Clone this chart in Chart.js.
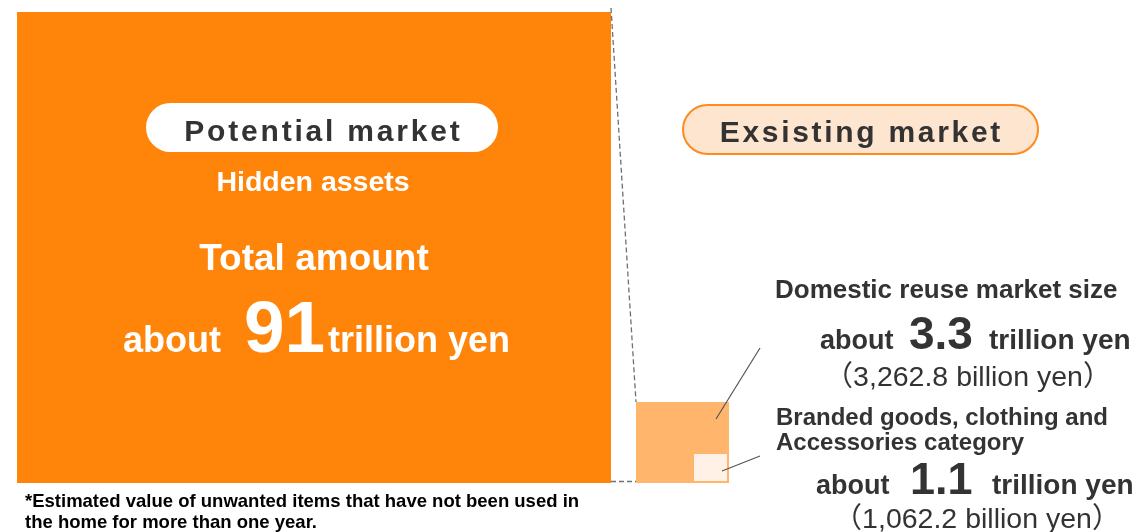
<!DOCTYPE html>
<html>
<head>
<meta charset="utf-8">
<script src="https://cdn.jsdelivr.net/npm/chart.js@4"></script>
<style>
  html, body { margin: 0; padding: 0; background: #ffffff; }
  #wrap { position: relative; width: 1142px; height: 532px; }
</style>
</head>
<body>
<div id="wrap"><canvas id="c" width="1142" height="532"></canvas></div>
<script>
// ---------- data ----------
const categories = ['Potential market (hidden assets)', 'Domestic reuse market size', 'Branded goods, clothing and Accessories category'];
const valuesTrillionYen = [91, 3.3, 1.1];
const valuesBillionYen = [null, 3262.8, 1062.2];

// ---------- layout (chart units on hidden axes: x 0..1142, y 0..532 from top) ----------
const boxLayout = [
  { x0: 17,  x1: 611, y0: 12,  y1: 483 },
  { x0: 636, x1: 729, y0: 402, y1: 483 },
  { x0: 694, x1: 727, y0: 454, y1: 481 }
];
const boxColors = ['#FF850A', '#FFB66C', '#FFF1E5'];

const FONT = "'Liberation Sans', Arial, sans-serif";
const CJK = "'Noto Sans CJK JP', sans-serif";

function boxDataset(i) {
  const b = boxLayout[i];
  return {
    label: categories[i],
    data: [{ x: b.x0, y: b.y0 }, { x: b.x1, y: b.y0 }],
    fill: { value: b.y1 },
    backgroundColor: boxColors[i],
    borderWidth: 0,
    pointRadius: 0,
    tension: 0,
    order: 10 - i
  };
}
function lineDataset(pts, color, dash, width) {
  return {
    data: pts.map(p => ({ x: p[0], y: p[1] })),
    fill: false,
    borderColor: color,
    borderWidth: width,
    borderDash: dash,
    pointRadius: 0,
    tension: 0,
    order: 0
  };
}

const datasets = [
  boxDataset(0), boxDataset(1), boxDataset(2),
  lineDataset([[611, 8], [636, 402]], '#707070', [5, 3], 1.3),
  lineDataset([[611, 481.5], [636, 481.5]], '#707070', [5, 3], 1.3),
  lineDataset([[716, 419], [760, 348]], '#555555', [], 1.2),
  lineDataset([[722, 471], [760, 456]], '#555555', [], 1.2)
];

function fmtBillion(v) {
  return v.toLocaleString('en-US', { minimumFractionDigits: 1, maximumFractionDigits: 1 });
}

const textPlugin = {
  id: 'annot',
  afterDatasetsDraw(chart) {
    const ctx = chart.ctx;
    const sx = chart.scales.x, sy = chart.scales.y;
    const X = v => sx.getPixelForValue(v);
    const Y = v => sy.getPixelForValue(v);
    ctx.save();
    ctx.textBaseline = 'alphabetic';

    function pill(x0, y0, x1, y1, fill, stroke) {
      const px0 = X(x0), py0 = Y(y0), px1 = X(x1), py1 = Y(y1);
      const r = (py1 - py0) / 2;
      ctx.beginPath();
      ctx.roundRect(px0, py0, px1 - px0, py1 - py0, r);
      ctx.fillStyle = fill;
      ctx.fill();
      if (stroke) { ctx.lineWidth = 2; ctx.strokeStyle = stroke; ctx.stroke(); }
    }
    function text(str, x, y, size, color, opts = {}) {
      ctx.font = (opts.weight || 'bold') + ' ' + size + 'px ' + FONT;
      ctx.fillStyle = color;
      ctx.textAlign = opts.align || 'left';
      ctx.letterSpacing = (opts.spacing || 0) + 'px';
      let px = X(x);
      if (opts.spacing && opts.align === 'center') px += opts.spacing / 2;
      ctx.fillText(str, px, Y(y));
      ctx.letterSpacing = '0px';
    }
    function parenText(middle, cx, y, size, color) {
      ctx.fillStyle = color;
      ctx.textAlign = 'left';
      ctx.font = 'normal ' + size + 'px ' + CJK;
      const w1 = ctx.measureText('\uFF08').width;
      const w3 = ctx.measureText('\uFF09').width;
      ctx.font = 'normal ' + size + 'px ' + FONT;
      const w2 = ctx.measureText(middle).width;
      let px = X(cx) - (w1 + w2 + w3) / 2;
      const py = Y(y);
      ctx.font = 'normal ' + size + 'px ' + CJK;
      ctx.fillText('\uFF08', px, py);
      ctx.font = 'normal ' + size + 'px ' + FONT;
      ctx.fillText(middle, px + w1, py);
      ctx.font = 'normal ' + size + 'px ' + CJK;
      ctx.fillText('\uFF09', px + w1 + w2, py);
    }

    // Pills
    pill(146, 103, 498, 152, '#FFFFFF', null);
    text('Potential market', 322, 141, 30, '#333333', { align: 'center', spacing: 2.8 });
    pill(683, 105, 1038, 154, '#FDE5CF', '#FF8A1E');
    text('Exsisting market', 860, 142, 30, '#333333', { align: 'center', spacing: 2.7 });

    // Big box texts
    text('Hidden assets', 313, 191, 28.5, '#FFFFFF', { align: 'center' });
    text('Total amount', 314, 270, 37, '#FFFFFF', { align: 'center' });
    text('about', 123, 352, 36, '#FFFFFF');
    text(String(valuesTrillionYen[0]), 244, 352, 73, '#FFFFFF');
    text('trillion yen', 328, 352, 36, '#FFFFFF');

    // Domestic reuse market
    text(categories[1], 775, 298, 26, '#333333');
    text('about', 820, 349, 27, '#333333');
    text(valuesTrillionYen[1].toFixed(1), 909, 349, 46, '#333333');
    text('trillion yen', 989, 349, 28, '#333333');
    parenText(fmtBillion(valuesBillionYen[1]) + ' billion yen', 968, 386, 28.5, '#333333');

    // Branded goods
    text('Branded goods, clothing and', 776, 425, 24, '#333333');
    text('Accessories category', 776, 450, 24, '#333333');
    text('about', 816, 494, 27, '#333333');
    text(valuesTrillionYen[2].toFixed(1), 910, 494, 45, '#333333');
    text('trillion yen', 992, 494, 28, '#333333');
    parenText(fmtBillion(valuesBillionYen[2]) + ' billion yen', 977, 528, 28.5, '#333333');

    // Footnote
    text('*Estimated value of unwanted items that have not been used in', 25, 507, 18.5, '#000000');
    text('the home for more than one year.', 25, 528, 18.5, '#000000');

    ctx.restore();
  }
};

new Chart(document.getElementById('c'), {
  type: 'line',
  data: { datasets },
  options: {
    responsive: false,
    animation: false,
    devicePixelRatio: 1,
    layout: { padding: 0 },
    plugins: { legend: { display: false }, tooltip: { enabled: false }, title: { display: false } },
    scales: {
      x: { type: 'linear', min: 0, max: 1142, display: false },
      y: { type: 'linear', min: 0, max: 532, reverse: true, display: false }
    }
  },
  plugins: [textPlugin]
});
</script>
</body>
</html>
